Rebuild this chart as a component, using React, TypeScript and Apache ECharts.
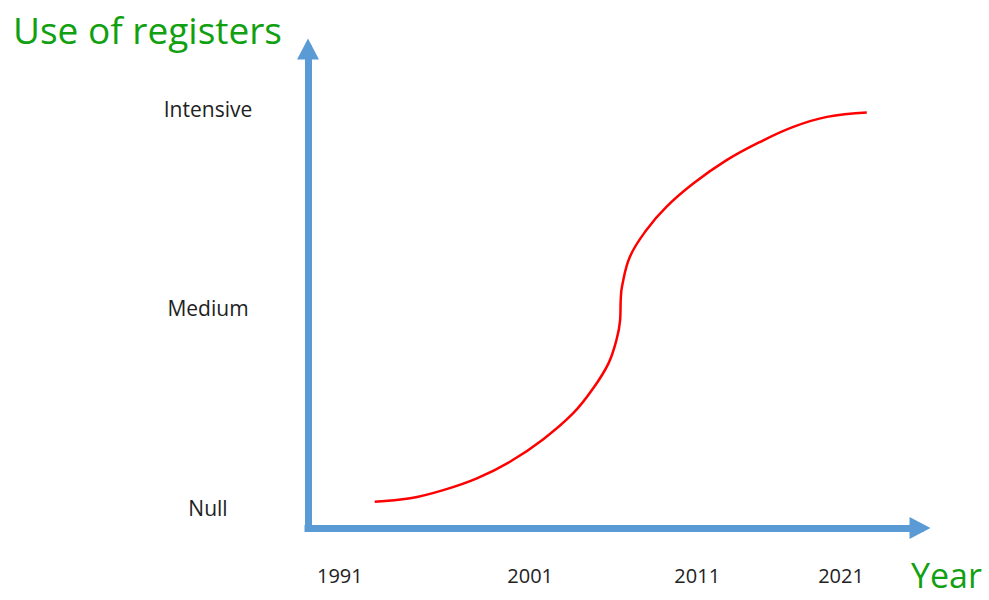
import React, { useEffect, useRef } from "react";
import * as echarts from "echarts";

// Horizontal axis runs on an abstract 0–100 "time" scale (the sketch is not linear in years)
const yearLabels = ["1991", "2001", "2011", "2021"];
const yearTickPositions = [5.2, 36.3, 63.6, 87.1];

// Vertical axis levels
const levelLabels = ["Null", "Medium", "Intensive"];
const levelValues = [0, 1, 2];

// S-curve of register use
const curveX = [10.9, 16.7, 22.1, 27.6, 33.0, 38.4, 43.3, 46.6, 49.1, 50.4, 51.0, 51.1, 51.3, 52.6, 55.3, 58.6, 63.0, 68.4, 73.9, 79.3, 84.8, 91.3];
const curveY = [0.032, 0.049, 0.09, 0.149, 0.232, 0.344, 0.474, 0.6, 0.725, 0.842, 0.942, 1.042, 1.109, 1.259, 1.393, 1.51, 1.627, 1.743, 1.835, 1.91, 1.96, 1.982];

const AXIS_BLUE = "#5B9BD5";
const GREEN = "#10A010";
const FONT = "'Open Sans', 'Noto Sans', sans-serif";

export default function App() {
  const ref = useRef<HTMLDivElement>(null);

  useEffect(() => {
    document.body.style.margin = "0";
    if (!ref.current) return;
    const chart = echarts.init(ref.current, undefined, { renderer: "svg" });
    const axisLine = {
      show: true,
      onZero: false,
      symbol: ["none", "triangle"],
      symbolSize: [22, 21],
      lineStyle: { color: AXIS_BLUE, width: 7, cap: "square" },
    };
    chart.setOption({
      animation: false,
      backgroundColor: "#ffffff",
      title: [
        {
          text: "Use of registers",
          left: 8,
          top: 4,
          textStyle: { color: GREEN, fontFamily: FONT, fontSize: 37, fontWeight: "normal", lineHeight: 40 },
        },
        {
          text: "Year",
          left: 906,
          top: 553,
          textStyle: { color: GREEN, fontFamily: FONT, fontSize: 34, fontWeight: "normal", lineHeight: 34 },
        },
      ],
      grid: { left: 308, right: 69, top: 49, bottom: 72, containLabel: false },
      xAxis: {
        type: "value",
        min: 0,
        max: 100,
        axisLine,
        axisTick: { show: false },
        splitLine: { show: false },
        axisLabel: {
          customValues: yearTickPositions,
          margin: 37,
          color: "#222",
          fontFamily: FONT,
          fontSize: 20,
          formatter: (v: number) => {
            const i = yearTickPositions.indexOf(v);
            return i >= 0 ? yearLabels[i] : "";
          },
        },
      },
      yAxis: {
        type: "value",
        min: -0.1,
        max: 2.3,
        axisLine,
        axisTick: { show: false },
        splitLine: { show: false },
        axisLabel: {
          customValues: levelValues,
          margin: 100,
          align: "center",
          color: "#222",
          fontFamily: FONT,
          fontSize: 21,
          formatter: (v: number) => {
            const i = levelValues.indexOf(v);
            return i >= 0 ? levelLabels[i] : "";
          },
        },
      },
      series: [
        {
          type: "line",
          data: curveX.map((x, i) => [x, curveY[i]]),
          smooth: 0.4,
          showSymbol: false,
          lineStyle: { color: "#FF0000", width: 2.5 },
        },
      ],
    });
    return () => chart.dispose();
  }, []);

  return <div ref={ref} style={{ width: 989, height: 600 }} />;
}
